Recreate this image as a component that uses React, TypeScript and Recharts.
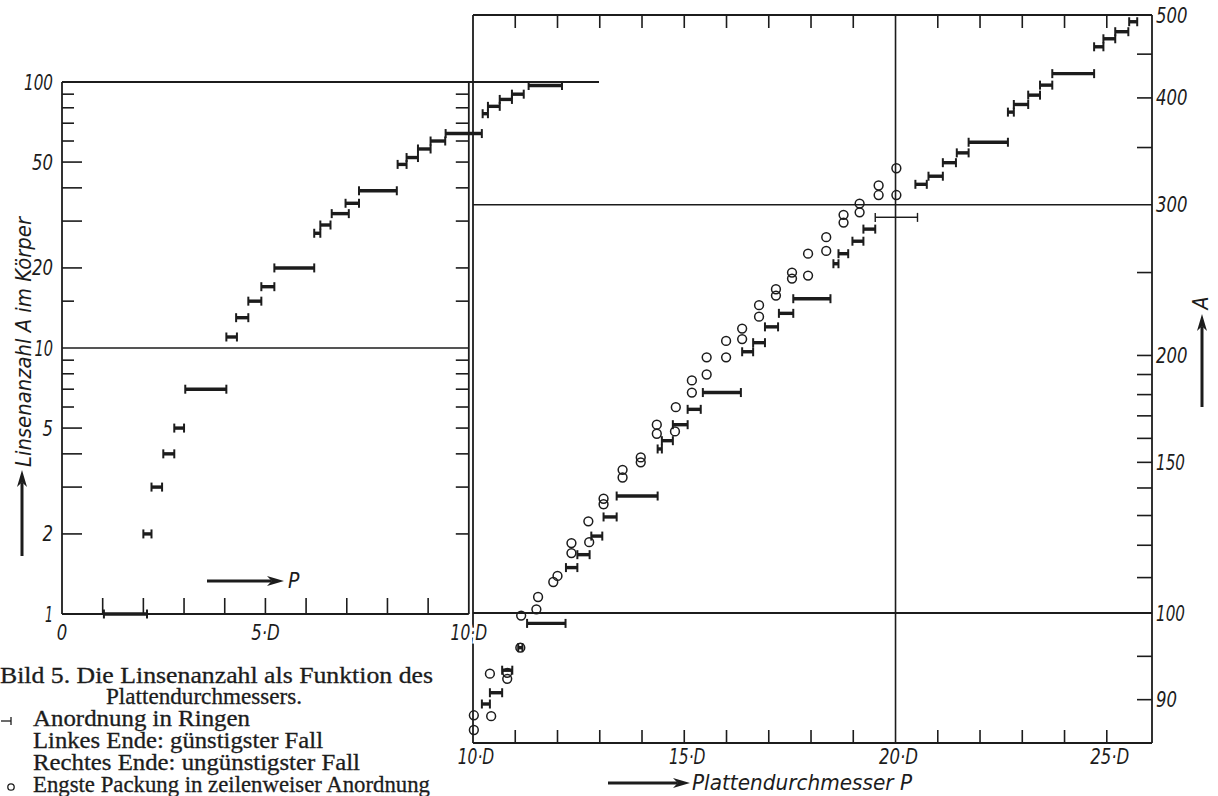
import React from "react";
import { ScatterChart, Scatter, XAxis, YAxis, ErrorBar, ReferenceLine } from "recharts";

const INK = "#1c1c1c";
const LETTER = "'Liberation Sans Narrow', 'DejaVu Sans Condensed', 'Liberation Sans', 'DejaVu Sans', sans-serif";
const SERIF = "'Liberation Serif', 'DejaVu Serif', serif";

// left panel: ring arrangement, A (log 1..100) over P in units of D
const leftRingA = [1, 2, 3, 4, 5, 7, 11, 13, 15, 17, 20, 27, 29, 32, 35, 39, 49, 52, 56, 60, 64, 76, 81, 86, 90, 97];
const leftRingFrom = [1.03, 2.0, 2.2, 2.49, 2.76, 3.03, 4.04, 4.28, 4.58, 4.9, 5.22, 6.2, 6.35, 6.63, 6.97, 7.3, 8.25, 8.47, 8.75, 9.06, 9.43, 10.34, 10.47, 10.76, 11.06, 11.47];
const leftRingTo = [2.09, 2.2, 2.46, 2.76, 3.0, 4.04, 4.3, 4.58, 4.9, 5.22, 6.2, 6.35, 6.6, 7.05, 7.3, 8.23, 8.47, 8.75, 9.06, 9.42, 10.32, 10.47, 10.76, 11.06, 11.35, 12.29];

// right panel, upper part (A 100..500, log)
const ringA = [113, 117, 123, 129.5, 137, 155.5, 159, 166, 173, 181, 202, 207, 216, 224, 233, 256, 263, 272, 281, 317, 324, 336, 345, 355, 385, 393, 403, 414, 427, 459, 469, 478, 491];
const ringFrom = [12.2, 12.47, 12.8, 13.09, 13.4, 14.37, 14.47, 14.73, 15.08, 15.44, 16.37, 16.63, 16.91, 17.24, 17.58, 18.53, 18.65, 18.98, 19.24, 20.47, 20.78, 21.12, 21.45, 21.73, 22.66, 22.8, 23.14, 23.42, 23.71, 24.7, 24.92, 25.2, 25.53];
const ringTo = [12.47, 12.76, 13.06, 13.4, 14.37, 14.47, 14.73, 15.08, 15.39, 16.34, 16.63, 16.91, 17.22, 17.58, 18.46, 18.65, 18.88, 19.24, 19.52, 20.74, 21.12, 21.43, 21.73, 22.66, 22.8, 23.14, 23.42, 23.71, 24.7, 24.92, 25.2, 25.51, 25.72];
const thinRingA = [290];
const thinRingFrom = [19.52];
const thinRingTo = [20.52];
const packP = [11.5, 11.54, 11.9, 12.0, 12.33, 12.33, 12.75, 12.73, 13.09, 13.09, 13.54, 13.54, 13.97, 13.97, 14.35, 14.35, 14.78, 14.8, 15.18, 15.18, 15.53, 15.53, 15.99, 15.99, 16.37, 16.37, 16.77, 16.77, 17.17, 17.17, 17.55, 17.55, 17.93, 17.93, 18.36, 18.36, 18.77, 18.77, 19.15, 19.15, 19.6, 19.6, 20.02, 20.02];
const packA = [101, 104.4, 108.7, 110.5, 117.5, 120.7, 121, 128, 134, 136, 144, 147, 150, 152, 162, 166, 163, 174, 181, 187, 190, 199, 199, 208, 209, 215, 222, 229, 235, 239, 246, 250, 248, 263, 265, 275, 286, 292, 294, 301, 308, 316, 308, 331];

// right panel, lower part (A 85..100)
const lowRingA = [89.5, 90.8, 93.4, 96, 98.8];
const lowRingFrom = [10.21, 10.4, 10.69, 11.07, 11.28];
const lowRingTo = [10.4, 10.69, 10.93, 11.17, 12.19];
const lowPackP = [10.02, 10.02, 10.43, 10.4, 10.81, 10.81, 11.12, 11.14];
const lowPackA = [86.5, 88.2, 88.1, 93.0, 92.4, 93.1, 96.0, 99.7];

// ticks
const leftYTicks = [1, 2, 3, 4, 5, 6, 7, 8, 9, 10, 15, 20, 30, 40, 50, 60, 70, 80, 90, 100];
const leftYLabels = [1, 2, 5, 10, 20, 50, 100];
const leftLongTicks = [2, 3, 4, 5, 20, 30, 40, 50];
const leftXTicks = [0, 1, 2, 3, 4, 5, 6, 7, 8, 9, 10];
const leftXLabels: Record<number, string> = { 0: "0", 5: "5·D", 10: "10·D" };
const rightYTicks = [100, 110, 120, 130, 140, 150, 160, 170, 180, 190, 200, 250, 300, 350, 400, 450, 500];
const rightYLabels = [100, 150, 200, 300, 400, 500];
const lowYTicks = [90, 95];
const lowYLabels = [90];
const rightXTicks = [10, 11, 12, 13, 14, 15, 16, 17, 18, 19, 20, 21, 22, 23, 24, 25];
const rightXLabels: Record<number, string> = { 10: "10·D", 15: "15·D", 20: "20·D", 25: "25·D" };

const toRing = (a: number[], from: number[], to: number[]) =>
  a.map((v, i) => ({ p: from[i], a: v, err: [0, to[i] - from[i]] }));
const toPoints = (p: number[], a: number[]) => p.map((v, i) => ({ p: v, a: a[i] }));

const leftRing = toRing(leftRingA, leftRingFrom, leftRingTo);
const upperRing = toRing(ringA, ringFrom, ringTo);
const thinRing = toRing(thinRingA, thinRingFrom, thinRingTo);
const lowerRing = toRing(lowRingA, lowRingFrom, lowRingTo);
const upperPack = toPoints(packP, packA);
const lowerPack = toPoints(lowPackP, lowPackA);

function labelWidth(s: string) {
  let w = 0;
  for (const c of s) w += c === "·" ? 6 : c === "D" ? 12 : c === "1" ? 8 : 10.5;
  return w;
}

const TickText = ({ x, y, text, anchor, halo }: { x: number; y: number; text: string; anchor: "start" | "middle" | "end"; halo?: boolean }) => (
  <text
    x={x}
    y={y}
    textAnchor={anchor}
    fontFamily={LETTER}
    fontStyle="italic"
    fontSize={21}
    fill={INK}
    textLength={labelWidth(text)}
    lengthAdjust="spacingAndGlyphs"
    stroke={halo ? "#fff" : "none"}
    strokeWidth={halo ? 7 : 0}
    style={{ paintOrder: "stroke" }}
  >
    {text}
  </text>
);

type TickProps = { x?: number; y?: number; payload?: { value: number } };

const tickLine = (x1: number, y1: number, x2: number, y2: number) => (
  <line x1={x1} y1={y1} x2={x2} y2={y2} stroke={INK} strokeWidth={1.6} />
);

// left panel ticks
const LeftYTick = ({ x = 0, y = 0, payload }: TickProps) => {
  const v = payload?.value ?? 0;
  const len = leftLongTicks.includes(v) ? 20 : 12;
  return (
    <g>
      {v !== 1 && v !== 10 && v !== 100 && tickLine(x, y, x + len, y)}
      {leftYLabels.includes(v) && <TickText x={x - 9} y={y + 7.5} anchor="end" text={String(v)} />}
    </g>
  );
};
const LeftBottomTick = ({ x = 0, y = 0, payload }: TickProps) => {
  const v = payload?.value ?? 0;
  return (
    <g>
      {v > 0 && v < 10 && tickLine(x, y, x, y - 16)}
      {leftXLabels[v] && <TickText x={x} y={y + 26} anchor="middle" text={leftXLabels[v]} halo={v === 10} />}
    </g>
  );
};
const LeftTopTick = ({ x = 0, y = 0, payload }: TickProps) => {
  const v = payload?.value ?? 0;
  return <g>{v > 0 && v < 10 && tickLine(x, y, x, y + 12)}</g>;
};

// right panel ticks
const RightYTick = ({ x = 0, y = 0, payload }: TickProps) => {
  const v = payload?.value ?? 0;
  return (
    <g>
      {v !== 100 && v !== 300 && v !== 500 && tickLine(x, y, x - 15, y)}
      {rightYLabels.includes(v) && <TickText x={x + 4} y={y + 7.5} anchor="start" text={String(v)} />}
    </g>
  );
};
const InnerLeftTick = ({ x = 0, y = 0, payload }: TickProps) => {
  const v = payload?.value ?? 0;
  return <g>{v !== 100 && v !== 300 && v !== 500 && tickLine(x, y, x + 12, y)}</g>;
};
const LowRightTick = ({ x = 0, y = 0, payload }: TickProps) => {
  const v = payload?.value ?? 0;
  return (
    <g>
      {tickLine(x, y, x - 15, y)}
      {lowYLabels.includes(v) && <TickText x={x + 4} y={y + 7.5} anchor="start" text={String(v)} />}
    </g>
  );
};
const RightTopTick = ({ x = 0, y = 0, payload }: TickProps) => {
  const v = payload?.value ?? 0;
  return <g>{v > 10 && v !== 20 && tickLine(x, y, x, y + 13)}</g>;
};
const RightBottomTick = ({ x = 0, y = 0, payload }: TickProps) => {
  const v = payload?.value ?? 0;
  return (
    <g>
      {v > 10 && v !== 20 && tickLine(x, y, x, y - 13)}
      {rightXLabels[v] && <TickText x={x + 3} y={y + 21} anchor="middle" text={rightXLabels[v]} />}
    </g>
  );
};

const Circle = (props: { cx?: number; cy?: number }) => (
  <circle cx={props.cx} cy={props.cy} r={4.4} fill="none" stroke={INK} strokeWidth={1.5} />
);
const Nothing = () => <g />;

const RingSeries = ({ data, xId, yId, thin }: { data: any[]; xId: string; yId: string; thin?: boolean }) => (
  <Scatter data={data} xAxisId={xId} yAxisId={yId} shape={<Nothing />} isAnimationActive={false}>
    <ErrorBar dataKey="err" direction="x" width={0} stroke={INK} strokeWidth={thin ? 1.4 : 3.4} isAnimationActive={false} />
    <ErrorBar dataKey="err" direction="x" width={4.5} stroke={INK} strokeWidth={thin ? 1.4 : 2} isAnimationActive={false} />
  </Scatter>
);

const chartBox: React.CSSProperties = { position: "absolute", left: 0, top: 0 };
const W = 1218;
const H = 796;
const AXIS = { stroke: INK, strokeWidth: 1.8 };

function Arrow({ x1, y1, x2, y2 }: { x1: number; y1: number; x2: number; y2: number }) {
  const dx = x2 - x1;
  const dy = y2 - y1;
  const L = Math.hypot(dx, dy);
  const ux = dx / L;
  const uy = dy / L;
  const nx = -uy;
  const ny = ux;
  const hl = 17;
  const hw = 5;
  const bx = x2 - ux * hl;
  const by = y2 - uy * hl;
  const mx = x2 - ux * hl * 0.72;
  const my = y2 - uy * hl * 0.72;
  return (
    <g>
      <line x1={x1} y1={y1} x2={mx} y2={my} stroke={INK} strokeWidth={3} />
      <path
        d={`M${x2},${y2} L${bx + nx * hw},${by + ny * hw} L${mx},${my} L${bx - nx * hw},${by - ny * hw} Z`}
        fill={INK}
      />
    </g>
  );
}

const captionLines = [
  { text: "Bild 5. Die Linsenanzahl als Funktion des", x: 0, y: 683, w: 433 },
  { text: "Plattendurchmessers.", x: 106, y: 704, w: 196 },
  { text: "Anordnung in Ringen", x: 33, y: 726, w: 217 },
  { text: "Linkes Ende: günstigster Fall", x: 33, y: 748, w: 290 },
  { text: "Rechtes Ende: ungünstigster Fall", x: 33, y: 770, w: 327 },
  { text: "Engste Packung in zeilenweiser Anordnung", x: 33, y: 792, w: 397 },
];

export default function App() {
  return (
    <div style={{ position: "absolute", left: 0, top: 0, width: W, height: H, background: "#fff", overflow: "hidden" }}>
      {/* right panel, upper part */}
      <div style={chartBox}>
        <ScatterChart width={W} height={H} margin={{ left: 472, top: 14, right: W - 1152 - 1, bottom: H - 613 }}>
          <XAxis xAxisId="t" orientation="top" type="number" dataKey="p" domain={[10, 26.07]} ticks={rightXTicks} interval={0}
            height={1} tickSize={0} tickMargin={0} tickLine={false} axisLine={AXIS} tick={(p: any) => <RightTopTick {...p} />} />
          <YAxis yAxisId="r" orientation="right" type="number" dataKey="a" scale="log" domain={[100, 500]} ticks={rightYTicks} interval={0}
            width={1} tickSize={0} tickMargin={0} tickLine={false} axisLine={AXIS} tick={(p: any) => <RightYTick {...p} />} />
          <YAxis yAxisId="l" orientation="left" type="number" dataKey="a" scale="log" domain={[100, 500]} ticks={rightYTicks} interval={0}
            width={1} tickSize={0} tickMargin={0} tickLine={false} axisLine={AXIS} tick={(p: any) => <InnerLeftTick {...p} />} />
          <ReferenceLine xAxisId="t" yAxisId="r" y={300} stroke={INK} strokeWidth={1.6} />
          <ReferenceLine xAxisId="t" yAxisId="r" y={100} stroke={INK} strokeWidth={1.8} />
          <ReferenceLine xAxisId="t" yAxisId="r" x={20} stroke={INK} strokeWidth={1.6} />
          {RingSeries({ data: upperRing, xId: "t", yId: "r" })}
          {RingSeries({ data: thinRing, xId: "t", yId: "r", thin: true })}
          <Scatter data={upperPack} xAxisId="t" yAxisId="r" shape={<Circle />} isAnimationActive={false} />
        </ScatterChart>
      </div>

      {/* right panel, lower part */}
      <div style={chartBox}>
        <ScatterChart width={W} height={H} margin={{ left: 472, top: 613, right: W - 1152 - 1, bottom: H - 743 - 1 }}>
          <XAxis xAxisId="b" orientation="bottom" type="number" dataKey="p" domain={[10, 26.07]} ticks={rightXTicks} interval={0}
            height={1} tickSize={0} tickMargin={0} tickLine={false} axisLine={AXIS} tick={(p: any) => <RightBottomTick {...p} />} />
          <YAxis yAxisId="r" orientation="right" type="number" dataKey="a" domain={[85, 100]} ticks={lowYTicks} interval={0}
            width={1} tickSize={0} tickMargin={0} tickLine={false} axisLine={AXIS} tick={(p: any) => <LowRightTick {...p} />} />
          <YAxis yAxisId="l" orientation="left" type="number" dataKey="a" domain={[85, 100]} ticks={lowYTicks} interval={0}
            width={1} tickSize={0} tickMargin={0} tickLine={false} axisLine={AXIS} tick={(p: any) => <InnerLeftTick {...p} />} />
          <ReferenceLine xAxisId="b" yAxisId="r" x={20} stroke={INK} strokeWidth={1.6} />
          {RingSeries({ data: lowerRing, xId: "b", yId: "r" })}
          <Scatter data={lowerPack} xAxisId="b" yAxisId="r" shape={<Circle />} isAnimationActive={false} />
        </ScatterChart>
      </div>

      {/* left panel, runs on over the right panel up to about 13·D */}
      <div style={chartBox}>
        <ScatterChart width={W} height={H} margin={{ left: 61, top: 81, right: W - 599, bottom: H - 614 - 1 }}>
          <XAxis xAxisId="b" orientation="bottom" type="number" dataKey="p" domain={[0, 13.2]} ticks={leftXTicks} interval={0}
            height={1} tickSize={0} tickMargin={0} tickLine={false} axisLine={false} tick={(p: any) => <LeftBottomTick {...p} />} />
          <XAxis xAxisId="t" orientation="top" type="number" dataKey="p" domain={[0, 13.2]} ticks={leftXTicks} interval={0}
            height={1} tickSize={0} tickMargin={0} tickLine={false} axisLine={false} tick={(p: any) => <LeftTopTick {...p} />} />
          <YAxis yAxisId="l" orientation="left" type="number" dataKey="a" scale="log" domain={[1, 100]} ticks={leftYTicks} interval={0}
            width={1} tickSize={0} tickMargin={0} tickLine={false} axisLine={AXIS} tick={(p: any) => <LeftYTick {...p} />} />
          <ReferenceLine xAxisId="b" yAxisId="l" y={100} stroke={INK} strokeWidth={1.8} />
          <ReferenceLine xAxisId="b" yAxisId="l" segment={[{ x: 0, y: 10 }, { x: 10, y: 10 }]} stroke={INK} strokeWidth={1.6} />
          <ReferenceLine xAxisId="b" yAxisId="l" segment={[{ x: 0, y: 1 }, { x: 10, y: 1 }]} stroke={INK} strokeWidth={1.8} />
          <ReferenceLine xAxisId="b" yAxisId="l" segment={[{ x: 10, y: 1 }, { x: 10, y: 100 }]} stroke={INK} strokeWidth={1.8} />
          {leftYTicks
            .filter((v) => v !== 1 && v !== 10 && v !== 100)
            .map((v) => (
              <ReferenceLine key={v} xAxisId="b" yAxisId="l" segment={[{ x: 9.68, y: v }, { x: 10, y: v }]} stroke={INK} strokeWidth={1.6} />
            ))}
          {RingSeries({ data: leftRing, xId: "b", yId: "l" })}
        </ScatterChart>
      </div>

      {/* titles and caption */}
      <svg width={W} height={H} style={{ position: "absolute", left: 0, top: 0 }}>
        <text x={31} y={342} transform="rotate(-90 31 342)" textAnchor="middle" fontFamily={LETTER} fontStyle="italic"
          fontSize={21} fill={INK} textLength={250} lengthAdjust="spacingAndGlyphs">
          Linsenanzahl A im Körper
        </text>
        <Arrow x1={22} y1={556} x2={22} y2={470} />
        <Arrow x1={207} y1={581} x2={284} y2={581} />
        <text x={288} y={588} fontFamily={LETTER} fontStyle="italic" fontSize={21} fill={INK}>P</text>
        <Arrow x1={608} y1={783} x2={690} y2={783} />
        <text x={692} y={790} fontFamily={LETTER} fontStyle="italic" fontSize={21} fill={INK} textLength={220} lengthAdjust="spacingAndGlyphs">
          Plattendurchmesser P
        </text>
        <Arrow x1={1202} y1={407} x2={1202} y2={314} />
        <text x={1208} y={303} transform="rotate(-90 1208 303)" textAnchor="middle" fontFamily={LETTER} fontStyle="italic" fontSize={21} fill={INK}>A</text>

        {captionLines.map((l) => (
          <text key={l.text} x={l.x} y={l.y} fontFamily={SERIF} fontSize={23} fill={INK} stroke={INK} strokeWidth={0.3}
            textLength={l.w} lengthAdjust="spacingAndGlyphs">
            {l.text}
          </text>
        ))}
        <line x1={1} y1={721} x2={11} y2={721} stroke={INK} strokeWidth={1.3} />
        <line x1={11} y1={717} x2={11} y2={725} stroke={INK} strokeWidth={1.3} />
        <circle cx={11} cy={787} r={3.2} fill="none" stroke={INK} strokeWidth={1.3} />
      </svg>
    </div>
  );
}
